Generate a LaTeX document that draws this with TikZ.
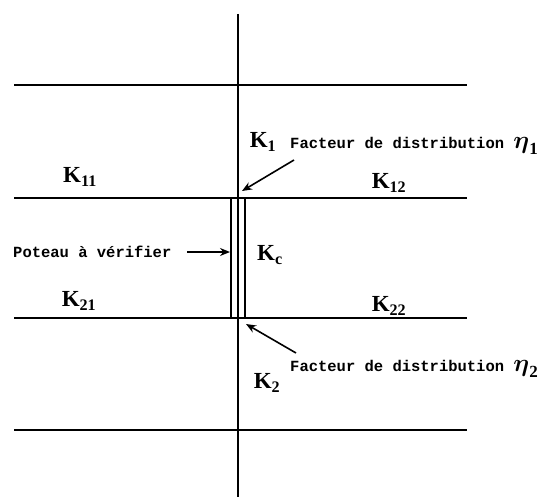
\documentclass[tikz,border=0pt]{standalone}
\usepackage{amsmath}
\usepackage{fontspec}
\setmainfont{Liberation Serif}
\newfontfamily\labfont{Liberation Mono}
\usetikzlibrary{arrows.meta}
\tikzset{
  beam/.style={line width=1.8pt},
  post/.style={line width=2.6pt},
  colline/.style={line width=1.6pt},
  arr/.style={line width=1.6pt,-{Stealth[length=10pt,width=8pt]}},
  klab/.style={inner sep=0pt,font=\fontsize{23}{24}\selectfont\bfseries},
  tlab/.style={inner sep=0pt,font=\fontsize{15.5}{17}\selectfont\labfont\bfseries},
}
\newcommand\Kx[1]{K\textsubscript{#1}}
\newcommand\etax[1]{{\fontsize{28}{28}\selectfont$\boldsymbol{\eta}$}\textsubscript{\normalfont\bfseries\fontsize{17}{17}\selectfont #1}}
\begin{document}
\begin{tikzpicture}[x=1pt,y=-1pt]
\useasboundingbox (0,0) rectangle (553,497);
% frame coordinates
\coordinate (pt) at (238,14);
\coordinate (pb) at (238,497);
\foreach \n/\y in {a/85,b/198,c/318,d/430}{
  \coordinate (\n L) at (14,\y);
  \coordinate (\n R) at (467,\y);
}
\draw[beam] (aL) -- (aR);
\draw[beam] (bL) -- (bR);
\draw[beam] (cL) -- (cR);
\draw[beam] (dL) -- (dR);
\draw[post] (pt) -- (pb);
% column
\coordinate (c1t) at (231,198); \coordinate (c1b) at (231,318);
\coordinate (c2t) at (245,198); \coordinate (c2b) at (245,318);
\draw[colline] (c1t) -- (c1b);
\draw[colline] (c2t) -- (c2b);
% labels
\node[klab] (k1) at (263,142) {\Kx{1}};
\node[klab] (k11) at (80,177) {\Kx{11}};
\node[klab] (k12) at (389,183) {\Kx{12}};
\node[klab] (kc) at (270,255) {\Kx{c}};
\node[klab] (k21) at (79,301) {\Kx{21}};
\node[klab] (k22) at (389,306) {\Kx{22}};
\node[klab] (k2) at (267,383) {\Kx{2}};
\node[tlab,anchor=west] (f1) at (290,146) {Facteur de distribution \etax{1}};
\node[tlab,anchor=west] (f2) at (290,369) {Facteur de distribution \etax{2}};
\node[tlab,anchor=west] (pv) at (13,252) {Poteau à vérifier};
% arrows
\coordinate (a1s) at (294,160); \coordinate (a1e) at (242,191);
\coordinate (a2s) at (296,353); \coordinate (a2e) at (246,324);
\coordinate (a3s) at (187,252); \coordinate (a3e) at (230,252);
\draw[arr] (a1s) -- (a1e);
\draw[arr] (a2s) -- (a2e);
\draw[arr] (a3s) -- (a3e);
\end{tikzpicture}
\end{document}
